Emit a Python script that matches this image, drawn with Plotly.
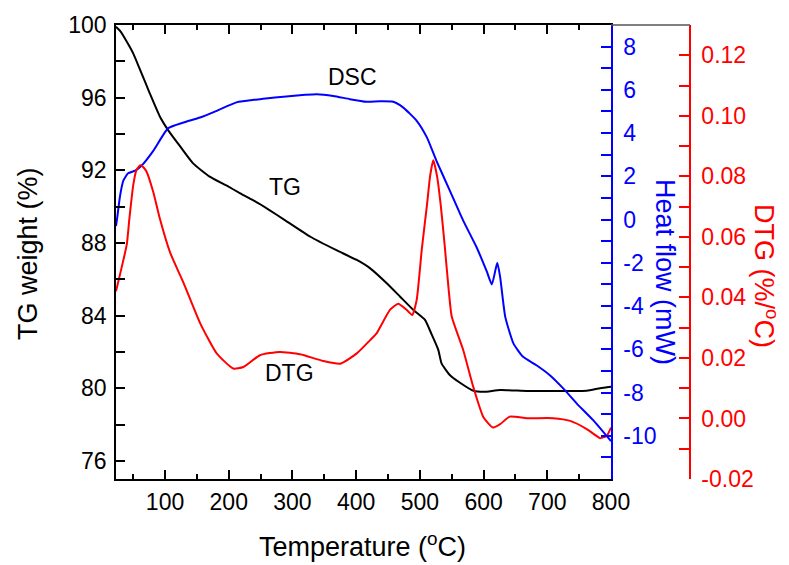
import plotly.graph_objects as go

# TG curve (weight %)
tg_temp = [23, 30, 40, 50, 61, 76, 92, 105, 124, 144, 170, 197, 218, 238, 262, 288,
           328, 369, 401, 422, 448, 469, 490, 508, 518, 529, 534, 547, 563, 584, 600,
           626, 668, 720, 762, 783, 800]
tg_weight = [99.9, 99.65, 99.08, 98.44, 97.52, 96.24, 94.95, 94.2, 93.3, 92.38, 91.65,
             91.15, 90.73, 90.36, 89.85, 89.26, 88.34, 87.6, 87.06, 86.6, 85.78, 85.04,
             84.3, 83.76, 83.0, 82.1, 81.37, 80.73, 80.3, 79.86, 79.8, 79.9, 79.85,
             79.85, 79.86, 80.0, 80.08]

# DSC curve (heat flow, mW)
dsc_temp = [23, 25, 29, 34.5, 42, 53, 63, 81.5, 105, 129, 155, 181, 212, 249, 286, 320,
            338, 364, 390, 416, 437, 458, 474, 495, 511, 526, 547, 568, 589, 605, 613,
            621.5, 626, 634, 647, 662, 683, 704, 725, 746, 772, 800]
dsc_heat = [-0.3, 0.1, 1.03, 1.8, 2.14, 2.26, 2.49, 3.18, 4.23, 4.49, 4.72, 5.03, 5.42,
            5.57, 5.68, 5.77, 5.8, 5.72, 5.57, 5.45, 5.47, 5.45, 5.18, 4.57, 3.8, 2.72,
            1.34, -0.05, -1.28, -2.4, -3.0, -2.0, -2.66, -4.5, -5.74, -6.35, -6.74,
            -7.2, -7.81, -8.5, -9.28, -10.25]

# DTG curve (%/oC)
dtg_temp = [23, 32, 40, 44, 50, 55, 61, 66, 71, 81.5, 92, 108, 129, 155, 181, 207, 223,
            249, 280, 312, 348, 375, 401, 422, 432, 453, 466, 479, 488, 495, 503, 511,
            516, 521, 527, 533, 539, 545, 550, 568, 584, 600, 615, 626, 641, 668, 709,
            736, 762, 783, 793, 800]
dtg_rate = [0.042, 0.050, 0.0576, 0.066, 0.077, 0.082, 0.0837, 0.083, 0.0815, 0.0748,
            0.0659, 0.0548, 0.0448, 0.0315, 0.0215, 0.0165, 0.017, 0.0209, 0.022, 0.0212,
            0.019, 0.0181, 0.0215, 0.0259, 0.0281, 0.0359, 0.0379, 0.0359, 0.0342,
            0.0392, 0.0559, 0.0703, 0.080, 0.0853, 0.080, 0.070, 0.057, 0.043, 0.0337,
            0.0226, 0.0103, 0.0003, -0.003, -0.0019, 0.0006, 0.0001, 0.0001, -0.0008,
            -0.0035, -0.0065, -0.0058, -0.003]

x_ticks = [100, 200, 300, 400, 500, 600, 700, 800]
x_minor = [50, 150, 250, 350, 450, 550, 650, 750]
tg_ticks = [76, 80, 84, 88, 92, 96, 100]
tg_minor = [78, 82, 86, 90, 94, 98]
dsc_ticks = [-10, -8, -6, -4, -2, 0, 2, 4, 6, 8]
dsc_minor = [-11, -9, -7, -5, -3, -1, 1, 3, 5, 7]
dtg_ticks = [-0.02, 0.00, 0.02, 0.04, 0.06, 0.08, 0.10, 0.12]
dtg_minor = [-0.01, 0.01, 0.03, 0.05, 0.07, 0.09, 0.11]

FONT = "Liberation Sans, Arial, sans-serif"
XEND = 495 / 574

fig = go.Figure()

fig.add_trace(go.Scatter(x=tg_temp, y=tg_weight, mode='lines', name='TG',
                         line=dict(color='black', width=2, shape='spline', smoothing=0.5)))
fig.add_trace(go.Scatter(x=dsc_temp, y=dsc_heat, mode='lines', name='DSC', yaxis='y2',
                         line=dict(color='#0000ff', width=2, shape='spline', smoothing=0.5)))
fig.add_trace(go.Scatter(x=dtg_temp, y=dtg_rate, mode='lines', name='DTG', yaxis='y3',
                         line=dict(color='#ff0000', width=2, shape='spline', smoothing=0.5)))

tick_font = dict(family=FONT, size=23)


def minor(vals, color, length):
    return dict(tickvals=vals, ticks='inside', ticklen=length, tickwidth=1.5,
                tickcolor=color)


fig.update_layout(
    width=789, height=565,
    # page body adds an 8px offset, so the margins are shifted to compensate
    margin=dict(l=108, r=107, t=17, b=94, autoexpand=False),
    plot_bgcolor='white', paper_bgcolor='white',
    showlegend=False,
    font=dict(family=FONT, color='black'),
    xaxis=dict(
        domain=[0, XEND], range=[23, 800],
        showline=True, linecolor='black', linewidth=1.5, mirror='ticks',
        ticks='inside', ticklen=9, tickwidth=1.5, tickcolor='black',
        tickvals=x_ticks, tickfont=tick_font, ticklabelstandoff=2,
        minor=minor(x_minor, 'black', 5),
        showgrid=False, zeroline=False,
    ),
    yaxis=dict(
        range=[75, 100],
        showline=True, linecolor='black', linewidth=1.5,
        ticks='inside', ticklen=9, tickwidth=1.5, tickcolor='black',
        tickvals=tg_ticks, tickfont=tick_font, ticklabelstandoff=3,
        minor=minor(tg_minor, 'black', 9),
        showgrid=False, zeroline=False,
    ),
    yaxis2=dict(
        range=[-12, 9], overlaying='y', side='right', anchor='x',
        showline=True, linecolor='#0000ff', linewidth=1.5,
        ticks='inside', ticklen=10, tickwidth=1.5, tickcolor='#0000ff',
        tickvals=dsc_ticks, ticktext=[str(v) for v in dsc_ticks],
        tickfont=dict(family=FONT, size=23, color='#0000ff'),
        ticklabelstandoff=6, minor=minor(dsc_minor, '#0000ff', 10),
        showgrid=False, zeroline=False,
    ),
    yaxis3=dict(
        range=[-0.02, 0.13], overlaying='y', side='right', anchor='free', position=1.0,
        showline=True, linecolor='#ff0000', linewidth=1.5,
        ticks='inside', ticklen=10, tickwidth=1.5, tickcolor='#ff0000',
        tickvals=dtg_ticks, ticktext=[f"{v:.2f}" for v in dtg_ticks],
        tickfont=dict(family=FONT, size=23, color='#ff0000'),
        ticklabelstandoff=6, minor=minor(dtg_minor, '#ff0000', 10),
        showgrid=False, zeroline=False,
    ),
)

# top frame line continuing over to the DTG axis
fig.add_shape(type='line', xref='paper', yref='paper', x0=XEND, x1=1, y0=1, y1=1,
              line=dict(color='#555555', width=1.5))

title_font = dict(family=FONT, size=27)
fig.add_annotation(text='TG weight (%)', xref='paper', yref='paper', x=-0.1533, y=0.4956,
                   xanchor='center', yanchor='middle', textangle=-90, showarrow=False,
                   font=dict(title_font, color='black'))
fig.add_annotation(text='Temperature (<sup>o</sup>C)', xref='paper', yref='paper',
                   x=0.4286, y=-0.1454, xanchor='center', yanchor='middle',
                   showarrow=False, font=dict(title_font, color='black'))
fig.add_annotation(text='Heat flow (mW)', xref='paper', yref='paper', x=0.9564, y=0.456,
                   xanchor='center', yanchor='middle', textangle=90, showarrow=False,
                   font=dict(title_font, color='#0000ff'))
fig.add_annotation(text='DTG (%/<sup>o</sup>C)', xref='paper', yref='paper', x=1.1324,
                   y=0.447, xanchor='center', yanchor='middle', textangle=90,
                   showarrow=False, font=dict(title_font, color='#ff0000'))

label_font = dict(family=FONT, size=23, color='black')
fig.add_annotation(text='DSC', x=395, y=97.15, xref='x', yref='y', showarrow=False,
                   font=label_font)
fig.add_annotation(text='TG', x=288, y=91.1, xref='x', yref='y', showarrow=False,
                   font=label_font)
fig.add_annotation(text='DTG', x=296, y=80.82, xref='x', yref='y', showarrow=False,
                   font=label_font)

fig.write_html("out.html")
